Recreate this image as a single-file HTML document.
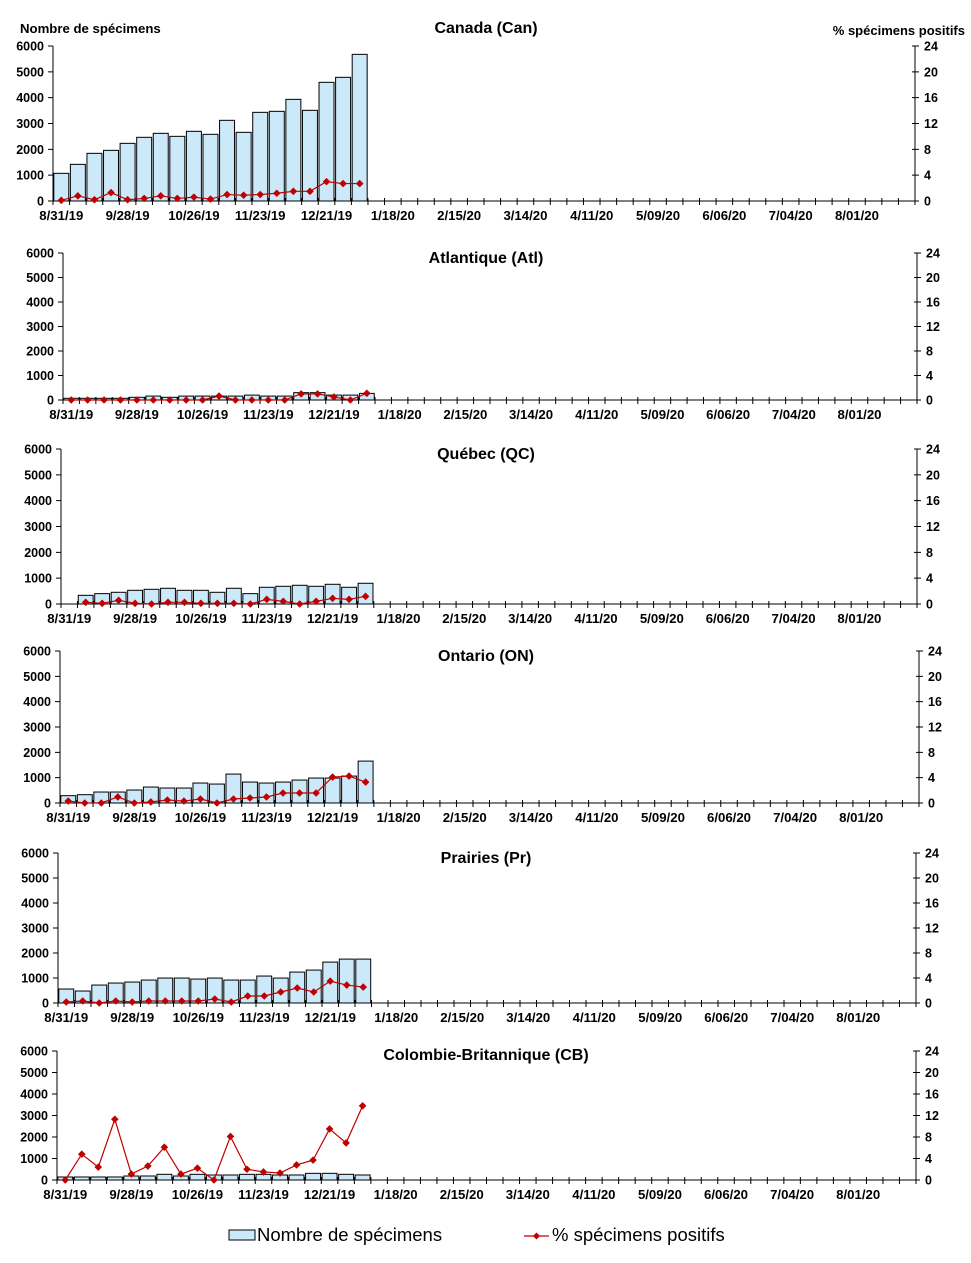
<!DOCTYPE html>
<html><head><meta charset="utf-8"><style>
body{margin:0;background:#fff;width:971px;height:1258px;overflow:hidden;font-family:"Liberation Sans",Arial,sans-serif}
svg text{font-family:"Liberation Sans",Arial,sans-serif}
</style></head><body>
<svg id="c" width="971" height="1258" xmlns="http://www.w3.org/2000/svg">
<text x="20" y="33" font-size="13.2" font-weight="bold">Nombre de spécimens</text>
<text x="965" y="35" font-size="13" font-weight="bold" text-anchor="end">% spécimens positifs</text>
<g>
<rect x="229" y="1230" width="26" height="10" fill="#cce9fa" stroke="#000"/>
<text x="257" y="1241" font-size="18.5">Nombre de spécimens</text>
<line x1="524" y1="1236" x2="549" y2="1236" stroke="#c00000" stroke-width="1.2"/>
<path d="M536.5 1232.5 L540 1236 L536.5 1239.5 L533 1236Z" fill="#c00000"/>
<text x="552" y="1241" font-size="18.5">% spécimens positifs</text>
</g>
</svg>
<script>
const xLabels=["8/31/19","9/28/19","10/26/19","11/23/19","12/21/19","1/18/20","2/15/20","3/14/20","4/11/20","5/09/20","6/06/20","7/04/20","8/01/20"];
const yLeftTicks=[0,1000,2000,3000,4000,5000,6000];
const yRightTicks=[0,4,8,12,16,20,24];
const panelTitles=["Canada (Can)","Atlantique (Atl)","Québec (QC)","Ontario (ON)","Prairies (Pr)","Colombie-Britannique (CB)"];
const canCount=[1071,1419,1845,1961,2232,2465,2619,2503,2697,2581,3123,2658,3432,3471,3935,3510,4594,4787,5677];
const canPct=[0.1,0.8,0.2,1.3,0.2,0.4,0.8,0.4,0.6,0.3,1.0,0.9,1.0,1.2,1.5,1.5,3.0,2.7,2.7];
const atlCount=[70,70,70,70,110,160,110,160,160,160,160,200,160,160,300,300,200,200,270];
const atlPct=[0,0,0,0,0,0,0,0,0,0.65,0,0,0,0,1.0,1.0,0.5,0,1.1];
const qcCount=[null,336,401,453,530,569,608,530,530,453,608,401,647,685,724,685,763,647,802];
const qcPct=[null,0.26,0.1,0.57,0.1,0,0.26,0.26,0.1,0.1,0.1,0,0.72,0.41,0,0.41,0.88,0.72,1.19];
const onCount=[289,328,433,433,512,630,591,591,788,748,1142,827,788,827,906,985,985,1063,1654];
const onPct=[0.31,0,0,0.95,0,0.16,0.47,0.31,0.63,0,0.63,0.79,0.95,1.58,1.58,1.58,4.1,4.25,3.3];
const prCount=[559,479,718,798,838,918,998,998,958,998,918,918,1078,998,1237,1317,1636,1756,1756];
const prPct=[0.16,0.32,0,0.32,0.16,0.32,0.32,0.32,0.32,0.64,0.16,1.12,1.12,1.76,2.4,1.76,3.5,2.87,2.55];
const cbCount=[140,140,140,140,186,186,264,186,264,233,233,264,264,233,233,310,310,264,233];
const cbPct=[0,4.8,2.4,11.3,1.1,2.6,6.1,1.1,2.2,0,8.1,2.0,1.5,1.3,2.8,3.7,9.5,6.9,13.8];

const geo=[
 {l:53,r:915,t:46,b:201,ty:33},
 {l:63,r:917,t:253,b:400,ty:263},
 {l:61,r:917,t:449,b:604,ty:459},
 {l:60,r:919,t:651,b:803,ty:661},
 {l:58,r:916,t:853,b:1003,ty:863},
 {l:57,r:916,t:1051,b:1180,ty:1060}
];
const counts=[canCount,atlCount,qcCount,onCount,prCount,cbCount];
const pcts=[canPct,atlPct,qcPct,onPct,prPct,cbPct];
const NS="http://www.w3.org/2000/svg";
const svg=document.getElementById('c');
function mk(tag,attrs,parent){const e=document.createElementNS(NS,tag);for(const k in attrs)e.setAttribute(k,attrs[k]);parent.appendChild(e);return e;}
const slugs=["canada","atlantique","quebec","ontario","prairies","cb"];
geo.forEach((g,pi)=>{
 const grp=mk('g',{},svg);
 
 
 const weeks=52, wk=(g.r-g.l)/weeks;
 const xC=i=>g.l+(i+0.5)*wk;
 const yL=v=>g.b-(v/6000)*(g.b-g.t);
 const yR=v=>g.b-(v/24)*(g.b-g.t);
 const t=mk('text',{x:486,y:g.ty,'font-size':16,'font-weight':'bold','text-anchor':'middle'},grp);
 t.textContent=panelTitles[pi];
 
 
 counts[pi].forEach((v,i)=>{ if(v==null)return;
  const r=mk('rect',{x:g.l+i*wk+0.8,y:yL(v),width:wk-1.6,height:g.b-yL(v),fill:'#cce9fa',stroke:'#000','stroke-width':1},grp);
  
  
 });
 const ax=mk('path',{d:`M${g.l} ${g.t}V${g.b}H${g.r}M${g.r} ${g.t}V${g.b}`,stroke:'#000',fill:'none','stroke-width':1},grp);
 
 
 let d='';
 for(let i=0;i<=weeks;i++){const x=g.l+i*wk;d+=`M${x} ${g.b-3}V${g.b+4}`;}
 yLeftTicks.forEach(v=>{const y=yL(v);d+=`M${g.l-5} ${y}H${g.l}`;});
 yRightTicks.forEach(v=>{const y=yR(v);d+=`M${g.r-3} ${y}H${g.r+4}`;});
 const tk=mk('path',{d:d,stroke:'#000','stroke-width':1},grp);
 
 
 yLeftTicks.forEach(v=>{const e=mk('text',{x:g.l-9,y:yL(v)+4.5,'font-size':12.5,'font-weight':'bold','text-anchor':'end'},grp);e.textContent=v;
  
  });
 yRightTicks.forEach(v=>{const e=mk('text',{x:g.r+9,y:yR(v)+4.5,'font-size':12.5,'font-weight':'bold'},grp);e.textContent=v;
  
  });
 xLabels.forEach((s,i)=>{const e=mk('text',{x:xC(i*4),y:g.b+19,'font-size':13.2,'font-weight':'bold','text-anchor':'middle'},grp);e.textContent=s;
  
  });
 let pd='';
 pcts[pi].forEach((v,i)=>{if(v==null)return;pd+=(pd?'L':'M')+xC(i)+' '+yR(v);});
 const ln=mk('path',{d:pd,stroke:'#c00000',fill:'none','stroke-width':1.2},grp);
 
 
 pcts[pi].forEach((v,i)=>{if(v==null)return;const x=xC(i),y=yR(v);
  const m=mk('path',{d:`M${x} ${y-3.8}L${x+3.8} ${y}L${x} ${y+3.8}L${x-3.8} ${y}Z`,fill:'#c00000'},grp);
  
  });
});
</script>
</body></html>
